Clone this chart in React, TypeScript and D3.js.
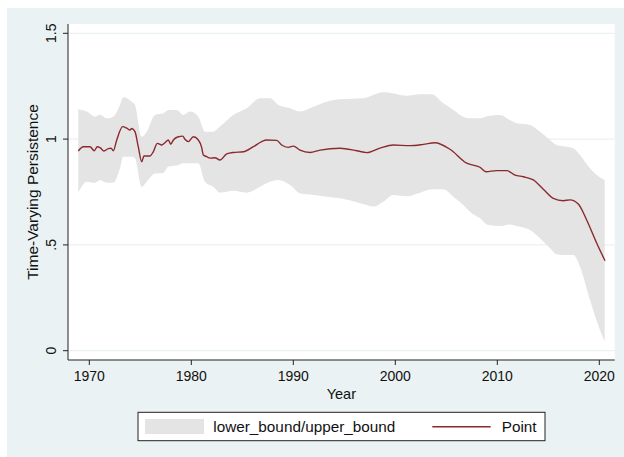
import React from "react";
import * as d3 from "d3";

// ---- Data ----
const pointYears = [
  1968.92, 1969.41, 1970.07, 1970.49, 1970.78, 1971.05, 1971.44, 1971.86, 1972.13, 1972.35,
  1972.69, 1973.27, 1973.67, 1973.99, 1974.16, 1974.48, 1974.8, 1975.14, 1975.36, 1975.95,
  1976.27, 1976.67, 1977.1, 1977.42, 1977.75, 1977.98, 1978.24, 1978.73, 1979.16, 1979.38,
  1979.71, 1980.2, 1980.69, 1981.02, 1981.18, 1981.51, 1981.83, 1982.32, 1982.81, 1983.47,
  1984.12, 1985.1, 1986.08, 1986.9, 1987.39, 1988.37, 1988.86, 1989.51, 1990.0, 1990.66,
  1991.64, 1992.62, 1994.58, 1996.22, 1997.2, 1998.5, 1999.8, 2001.44, 2002.75, 2003.89,
  2005.36, 2007.0, 2008.3, 2008.89, 2009.94, 2010.92, 2011.74, 2012.55, 2013.53, 2014.51,
  2015.49, 2016.47, 2017.13, 2017.94, 2018.76, 2019.75, 2020.56,
];
const pointValues = [
  0.944, 0.964, 0.964, 0.945, 0.964, 0.96, 0.944, 0.955, 0.957, 0.945,
  0.996, 1.059, 1.052, 1.043, 1.05, 1.035, 0.964, 0.893, 0.92, 0.92,
  0.94, 0.98, 0.972, 0.983, 0.996, 0.976, 0.996, 1.011, 1.014, 0.999,
  0.988, 1.011, 0.996, 0.96, 0.925, 0.917, 0.91, 0.912, 0.901, 0.93,
  0.937, 0.94, 0.964, 0.988, 0.996, 0.994, 0.972, 0.961, 0.967, 0.948,
  0.937, 0.948, 0.957, 0.945, 0.936, 0.957, 0.972, 0.969, 0.975, 0.983,
  0.952, 0.886, 0.867, 0.846, 0.851, 0.851, 0.83, 0.822, 0.807, 0.763,
  0.72, 0.709, 0.713, 0.693, 0.618, 0.508, 0.425,
];

const bandYears = [
  1968.92, 1969.75, 1970.56, 1971.05, 1971.71, 1972.35, 1973.01, 1973.33, 1974.16, 1974.48,
  1975.14, 1975.63, 1976.44, 1977.25, 1977.75, 1978.57, 1979.22, 1979.87, 1980.69, 1981.34,
  1982.16, 1982.81, 1984.12, 1985.43, 1986.74, 1987.72, 1988.53, 1989.68, 1990.66, 1991.96,
  1993.27, 1994.58, 1996.86, 1997.84, 1998.82, 1999.8, 2001.11, 2002.42, 2003.57, 2004.71,
  2005.69, 2006.67, 2007.32, 2008.3, 2009.12, 2010.26, 2011.24, 2011.9, 2013.21, 2014.19,
  2015.17, 2015.82, 2016.8, 2017.45, 2018.11, 2019.09, 2020.07, 2020.53,
];
const upperBound = [
  1.141, 1.13, 1.106, 1.115, 1.098, 1.106, 1.161, 1.198, 1.177, 1.161,
  1.011, 1.035, 1.114, 1.122, 1.138, 1.138, 1.114, 1.13, 1.106, 1.035,
  1.035, 1.059, 1.114, 1.146, 1.193, 1.193, 1.161, 1.146, 1.13, 1.153,
  1.177, 1.188, 1.193, 1.209, 1.221, 1.216, 1.205, 1.212, 1.212, 1.169,
  1.138, 1.106, 1.098, 1.098, 1.109, 1.114, 1.09, 1.075, 1.067, 1.035,
  0.996, 0.972, 0.964, 0.957, 0.925, 0.862, 0.819, 0.807,
];
const lowerBound = [
  0.747, 0.799, 0.794, 0.807, 0.794, 0.794, 0.862, 0.917, 0.917, 0.91,
  0.775, 0.799, 0.838, 0.84, 0.87, 0.875, 0.886, 0.886, 0.886, 0.799,
  0.775, 0.747, 0.756, 0.747, 0.775, 0.799, 0.807, 0.783, 0.744, 0.736,
  0.728, 0.72, 0.693, 0.681, 0.704, 0.736, 0.73, 0.747, 0.763, 0.763,
  0.728, 0.689, 0.657, 0.626, 0.594, 0.589, 0.597, 0.589, 0.57, 0.531,
  0.484, 0.456, 0.452, 0.452, 0.397, 0.24, 0.098, 0.043,
];

const xTicks = [1970, 1980, 1990, 2000, 2010, 2020];
const yTicks = [0, 0.5, 1, 1.5];
const yTickLabels = ["0", ".5", "1", "1.5"];
const legendLabels = ["lower_bound/upper_bound", "Point"];

const W = 624;
const H = 457;
const plot = { left: 68, right: 614.7, top: 24, bottom: 360 };
const BG = "#EAF2F3";
const BAND = "#E4E4E4";
const LINE = "#8A2A2F";
const FONT = "'Liberation Sans', Arial, Helvetica, sans-serif";

export default function App() {
  const x = d3.scaleLinear().domain([1970, 2020]).range([89.3, 599.3]);
  const y = d3.scaleLinear().domain([0, 1.5]).range([350.7, 33.3]);

  const bandData = bandYears.map((yr, i) => ({ yr, lo: lowerBound[i], hi: upperBound[i] }));
  const pointData = pointYears.map((yr, i) => ({ yr, v: pointValues[i] }));

  const area = d3
    .area<{ yr: number; lo: number; hi: number }>()
    .x((d) => x(d.yr))
    .y0((d) => y(d.lo))
    .y1((d) => y(d.hi))
    .curve(d3.curveMonotoneX);
  const line = d3
    .line<{ yr: number; v: number }>()
    .x((d) => x(d.yr))
    .y((d) => y(d.v))
    .curve(d3.curveMonotoneX);

  const legTop = 412.3;
  const legBottom = 440.7;
  const legMid = (legTop + legBottom) / 2;

  return (
    <svg
      width={W}
      height={H}
      style={{ position: "absolute", left: 0, top: 0, background: "#fff" }}
      fontFamily={FONT}
    >
      <rect x={7} y={8} width={W - 7} height={H - 8} fill={BG} />
      <rect
        x={plot.left}
        y={plot.top}
        width={plot.right - plot.left}
        height={plot.bottom - plot.top}
        fill="#fff"
      />
      {yTicks.map((t) => (
        <line
          key={"g" + t}
          x1={plot.left}
          x2={plot.right}
          y1={y(t)}
          y2={y(t)}
          stroke={BG}
          strokeWidth={1.2}
        />
      ))}
      <path d={area(bandData) || ""} fill={BAND} />
      <path d={line(pointData) || ""} fill="none" stroke={LINE} strokeWidth={1.4} />

      {/* axes */}
      <line x1={plot.left} x2={plot.left} y1={plot.top} y2={plot.bottom} stroke="#222" strokeWidth={1} />
      <line x1={plot.left} x2={plot.right} y1={plot.bottom} y2={plot.bottom} stroke="#222" strokeWidth={1} />
      {yTicks.map((t, i) => (
        <g key={"yt" + t}>
          <line x1={plot.left - 5} x2={plot.left} y1={y(t)} y2={y(t)} stroke="#222" strokeWidth={1} />
          <text
            transform={`translate(56,${y(t)}) rotate(-90)`}
            textAnchor="middle"
            fontSize={14}
            fill="#111"
          >
            {yTickLabels[i]}
          </text>
        </g>
      ))}
      {xTicks.map((t) => (
        <g key={"xt" + t}>
          <line x1={x(t)} x2={x(t)} y1={plot.bottom} y2={plot.bottom + 5} stroke="#222" strokeWidth={1} />
          <text x={x(t)} y={381} textAnchor="middle" fontSize={14} fill="#111">
            {t}
          </text>
        </g>
      ))}
      <text x={(plot.left + plot.right) / 2} y={398.5} textAnchor="middle" fontSize={14.5} fill="#111">
        Year
      </text>
      <text
        transform={`translate(37.8,${(plot.top + plot.bottom) / 2}) rotate(-90)`}
        textAnchor="middle"
        fontSize={15.5}
        fill="#111"
      >
        Time-Varying Persistence
      </text>

      {/* legend */}
      <rect x={138} y={legTop} width={545 - 138} height={legBottom - legTop} fill="#fff" stroke="#222" strokeWidth={1} />
      <rect x={145} y={419} width={59} height={15} fill={BAND} />
      <text x={213.3} y={legMid + 5.5} fontSize={15.3} fill="#111">
        {legendLabels[0]}
      </text>
      <line x1={432.3} x2={490.7} y1={426.7} y2={426.7} stroke={LINE} strokeWidth={1.4} />
      <text x={501.7} y={legMid + 5.5} fontSize={15.3} fill="#111">
        {legendLabels[1]}
      </text>
    </svg>
  );
}
